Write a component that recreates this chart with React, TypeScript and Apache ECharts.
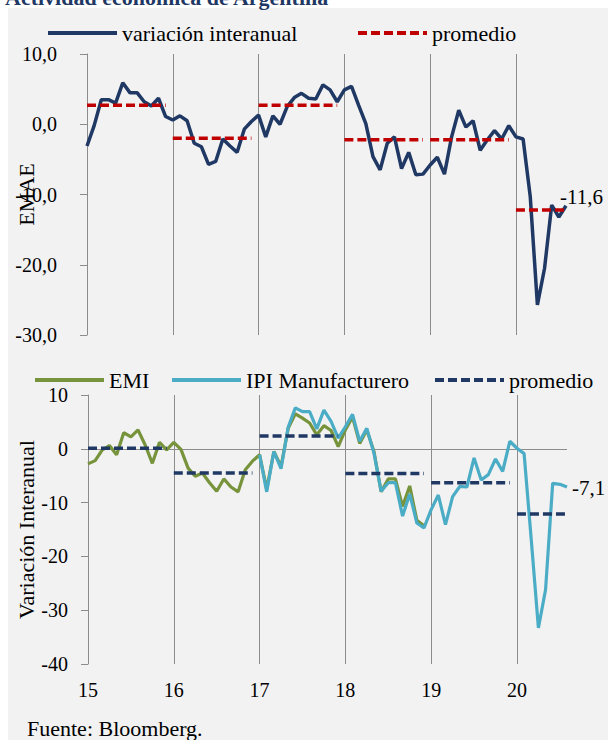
import React, { useEffect, useRef } from 'react';
import * as echarts from 'echarts';

const FONT = 'Liberation Serif';

// Category labels (two-digit years) and number of monthly observations per year
const yearLabels = ['15', '16', '17', '18', '19', '20'];
const monthsInYear = [12, 12, 12, 12, 12, 8];

// EMAE, variación interanual (%), Jan-2015 .. Aug-2020
const emae = [
  -3.1, -0.2, 3.5, 3.5, 3.0, 5.9, 4.5, 4.5, 3.2, 2.6, 3.7, 1.1,
  0.6, 1.2, 0.5, -2.7, -3.2, -5.7, -5.3, -2.1, -3.1, -4.0, -0.7, 0.4,
  1.3, -1.8, 1.2, 0.0, 2.5, 3.8, 4.4, 3.7, 3.6, 5.6, 4.9, 3.2,
  4.9, 5.4, 2.7, 0.1, -4.6, -6.5, -2.7, -1.8, -6.3, -4.0, -7.2, -7.1,
  -5.8, -4.7, -7.1, -1.8, 2.0, -0.4, 0.5, -3.7, -2.2, -0.9, -2.1, -0.2,
  -1.8, -2.1, -10.3, -25.7, -20.5, -11.5, -13.2, -11.6,
];
// EMAE yearly averages
const emaeAvg = [2.7, -2.0, 2.7, -2.2, -2.2, -12.2];

// EMI (%), Jan-2015 .. Dec-2018
const emi = [
  -2.8, -2.2, -0.2, 0.6, -1.1, 3.0, 2.2, 3.5, 0.7, -2.7, 1.2, -0.2,
  1.2, -0.1, -3.6, -5.1, -4.5, -6.3, -7.9, -5.6, -7.1, -8.0, -3.9, -2.3,
  -1.1, -7.5, -0.5, -3.3, 3.8, 6.5, 5.7, 4.8, 2.6, 4.3, 3.4, 0.4,
  3.5, 5.9, 1.0, 3.5, -0.5, -8.0, -5.6, -5.6, -10.7, -6.9, -13.3, -14.3,
];
// IPI Manufacturero (%), Jan-2017 .. Aug-2020
const ipiStartYear = '17';
const ipi = [
  -1.1, -8.0, -0.5, -3.7, 4.0, 7.6, 6.9, 6.9, 3.7, 7.2, 5.1, 2.0,
  4.1, 6.4, 1.4, 3.8, -0.8, -7.9, -6.3, -6.3, -12.5, -8.4, -13.8, -14.7,
  -11.3, -8.6, -14.1, -8.9, -7.0, -7.1, -1.7, -5.8, -4.8, -1.9, -4.2, 1.4,
  0.1, -0.9, -16.9, -33.3, -26.2, -6.4, -6.6, -7.1,
];
// Industrial yearly averages
const indAvg = [0.1, -4.5, 2.4, -4.6, -6.3, -12.1];

const categories: string[] = [];
yearLabels.forEach((y, k) => {
  for (let m = 1; m <= monthsInYear[k]; m++) categories.push(`${y}-${String(m).padStart(2, '0')}`);
});
const ipiStart = categories.indexOf(`${ipiStartYear}-01`);

const place = (arr: number[], start: number) =>
  categories.map((_, i) => (i >= start && i < start + arr.length ? arr[i - start] : null));
const yearAvg = (avgs: number[], k: number) =>
  categories.map((c) => (c.startsWith(yearLabels[k] + '-') ? avgs[k] : null));

const comma = (v: number, d: number) => v.toFixed(d).replace('.', ',');

const GRAY = '#8c8c8c';
const NAVY = '#1f3864';
const RED = '#c00000';
const GREEN = '#77933c';
const CYAN = '#4bacc6';

const legendText = { fontFamily: FONT, fontSize: 22, color: '#000' };
const isYearStart = (i: number) => i % 12 === 0;

function buildOption() {
  const topAvgSeries = yearLabels.map((_, k) => ({
    name: 'promedio',
    type: 'line',
    xAxisIndex: 0,
    yAxisIndex: 0,
    data: yearAvg(emaeAvg, k),
    symbol: 'none',
    lineStyle: { color: RED, width: 3.5, type: [9, 4] },
    itemStyle: { color: RED },
    z: 4,
  }));
  const botAvgSeries = yearLabels.map((_, k) => ({
    name: 'promedio_ind',
    type: 'line',
    xAxisIndex: 1,
    yAxisIndex: 1,
    data: yearAvg(indAvg, k),
    symbol: 'none',
    lineStyle: { color: NAVY, width: 3.5, type: [9, 4] },
    itemStyle: { color: NAVY },
    z: 4,
  }));
  const legendBase = {
    orient: 'horizontal',
    padding: 0,
    itemWidth: 69,
    itemHeight: 20,
    itemStyle: { opacity: 0 },
    lineStyle: { width: 4 },
    textStyle: legendText,
    formatter: (n: string) => (n === 'promedio_ind' ? 'promedio' : n),
  };
  const valueAxis = (gridIndex: number, min: number, max: number, dec: number, margin: number, name: string, nameGap: number) => ({
    type: 'value',
    gridIndex,
    min,
    max,
    interval: 10,
    name,
    nameLocation: 'middle',
    nameGap,
    nameMoveOverlap: false,
    nameTextStyle: { fontFamily: FONT, fontSize: 22, color: '#000' },
    axisLine: { show: true, lineStyle: { color: GRAY, width: 1 } },
    axisTick: { show: true, inside: false, length: 7, lineStyle: { color: GRAY } },
    splitLine: { show: false },
    axisLabel: { formatter: (v: number) => comma(v, dec), margin, fontFamily: FONT, fontSize: 20, color: '#000' },
  });
  const catAxis = (gridIndex: number, labels: boolean) => ({
    type: 'category',
    gridIndex,
    data: categories,
    boundaryGap: false,
    axisLine: { show: false },
    axisTick: { show: false },
    splitLine: { show: true, interval: (i: number) => isYearStart(i), lineStyle: { color: GRAY, width: 1 } },
    axisLabel: labels
      ? {
          show: true,
          interval: (i: number) => isYearStart(i),
          formatter: (v: string) => v.split('-')[0],
          margin: 16,
          fontFamily: FONT,
          fontSize: 20,
          color: '#000',
        }
      : { show: false },
  });

  return {
    animation: false,
    textStyle: { fontFamily: FONT },
    legend: [
      { ...legendBase, left: 46, top: 22, data: ['variación interanual'] },
      { ...legendBase, left: 356, top: 22, data: ['promedio'] },
      { ...legendBase, left: 33, top: 369, data: ['EMI'] },
      { ...legendBase, left: 170, top: 369, data: ['IPI Manufacturero'] },
      { ...legendBase, left: 433, top: 369, data: ['promedio_ind'] },
    ],
    grid: [
      { left: 87, top: 54, width: 479, height: 281, outerBoundsMode: 'none' },
      { left: 88, top: 395, width: 479, height: 269, outerBoundsMode: 'none' },
    ],
    xAxis: [catAxis(0, false), catAxis(1, true)],
    yAxis: [
      valueAxis(0, -30, 10, 1, 30, 'EMAE', 50),
      valueAxis(1, -40, 10, 0, 20, 'Variación Interanual', 51),
    ],
    graphic: [
      {
        type: 'text',
        x: 5,
        y: -3,
        style: {
          text: 'Actividad económica de Argentina',
          fontFamily: FONT,
          fontSize: 22,
          fontWeight: 'bold',
          fill: NAVY,
          verticalAlign: 'middle',
        },
      },
      {
        type: 'text',
        x: 27,
        y: 728,
        style: {
          text: 'Fuente: Bloomberg.',
          fontFamily: FONT,
          fontSize: 22,
          fill: '#000',
          verticalAlign: 'middle',
        },
      },
    ],
    series: [
      {
        name: 'variación interanual',
        type: 'line',
        xAxisIndex: 0,
        yAxisIndex: 0,
        data: emae,
        symbol: 'none',
        lineStyle: { color: NAVY, width: 3.5 },
        itemStyle: { color: NAVY },
        z: 3,
        endLabel: {
          show: true,
          formatter: (p: any) => comma(Number(p.value), 1),
          offset: [-14, -9],
          fontFamily: FONT,
          fontSize: 21,
          color: '#000',
        },
      },
      ...topAvgSeries,
      {
        name: 'EMI',
        type: 'line',
        xAxisIndex: 1,
        yAxisIndex: 1,
        data: place(emi, 0),
        symbol: 'none',
        lineStyle: { color: GREEN, width: 3.2 },
        itemStyle: { color: GREEN },
        z: 3,
        markLine: {
          silent: true,
          symbol: ['none', 'none'],
          label: { show: false },
          lineStyle: { color: GRAY, width: 1, type: 'solid' },
          emphasis: { disabled: true },
          data: [{ yAxis: 0 }],
          z: 1,
        },
      },
      {
        name: 'IPI Manufacturero',
        type: 'line',
        xAxisIndex: 1,
        yAxisIndex: 1,
        data: place(ipi, ipiStart),
        symbol: 'none',
        lineStyle: { color: CYAN, width: 3.2 },
        itemStyle: { color: CYAN },
        z: 3,
        endLabel: {
          show: true,
          formatter: (p: any) => comma(Number(p.value), 1),
          offset: [-3, 1],
          fontFamily: FONT,
          fontSize: 21,
          color: '#000',
        },
      },
      ...botAvgSeries,
    ],
  };
}

export default function App() {
  const ref = useRef<HTMLDivElement>(null);
  useEffect(() => {
    if (!ref.current) return;
    const chart = echarts.init(ref.current, null, { renderer: 'svg' });
    chart.setOption(buildOption() as any);
    return () => chart.dispose();
  }, []);
  return (
    <div style={{ position: 'absolute', left: 0, top: 0, width: 608, height: 740, background: '#fff', overflow: 'hidden' }}>
      <div style={{ position: 'absolute', left: 8, top: 8, width: 600, height: 732, background: '#f2f2f2' }} />
      <div ref={ref} style={{ position: 'absolute', left: 0, top: 0, width: 608, height: 740 }} />
    </div>
  );
}
